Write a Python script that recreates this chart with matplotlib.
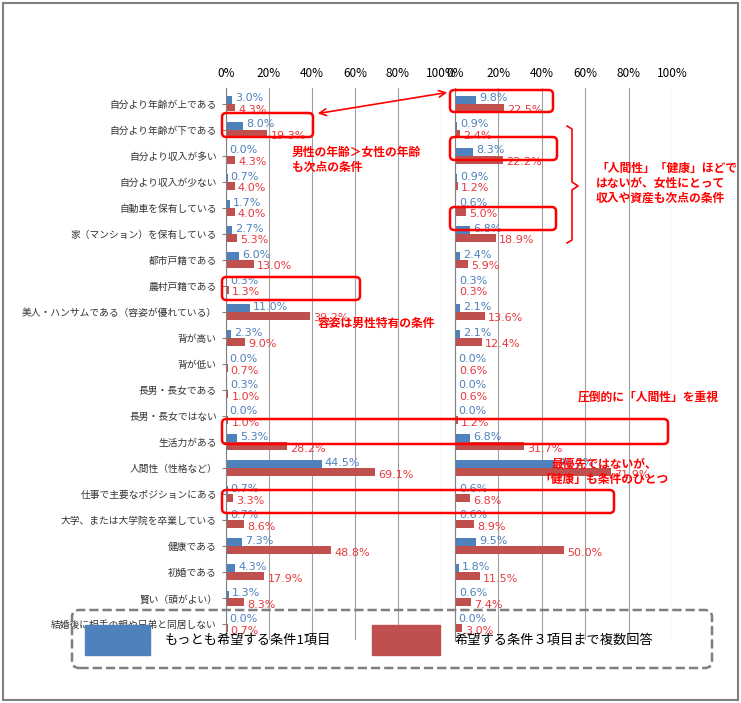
import numpy as np
import matplotlib.pyplot as plt
from matplotlib.patches import FancyBboxPatch, Rectangle, FancyArrowPatch

plt.rcParams['font.family'] = 'Noto Sans CJK JP'

categories = ['自分より年齢が上である', '自分より年齢が下である', '自分より収入が多い', '自分より収入が少ない',
              '自動車を保有している', '家（マンション）を保有している', '都市戸籍である', '農村戸籍である',
              '美人・ハンサムである（容姿が優れている）', '背が高い', '背が低い', '長男・長女である',
              '長男・長女ではない', '生活力がある', '人間性（性格など）', '仕事で主要なポジションにある',
              '大学、または大学院を卒業している', '健康である', '初婚である', '賢い（頭がよい）',
              '結婚後に相手の親や兄弟と同居しない']
left_top1 = [3.0, 8.0, 0.0, 0.7, 1.7, 2.7, 6.0, 0.3, 11.0, 2.3, 0.0, 0.3, 0.0, 5.3, 44.5, 0.7, 0.7, 7.3, 4.3, 1.3, 0.0]
left_top3 = [4.3, 19.3, 4.3, 4.0, 4.0, 5.3, 13.0, 1.3, 39.2, 9.0, 0.7, 1.0, 1.0, 28.2, 69.1, 3.3, 8.6, 48.8, 17.9, 8.3, 0.7]
right_top1 = [9.8, 0.9, 8.3, 0.9, 0.6, 6.8, 2.4, 0.3, 2.1, 2.1, 0.0, 0.0, 0.0, 6.8, 46.2, 0.6, 0.6, 9.5, 1.8, 0.6, 0.0]
right_top3 = [22.5, 2.4, 22.2, 1.2, 5.0, 18.9, 5.9, 0.3, 13.6, 12.4, 0.6, 0.6, 1.2, 31.7, 71.9, 6.8, 8.9, 50.0, 11.5, 7.4, 3.0]
legend_labels = ['もっとも希望する条件1項目', '希望する条件３項目まで複数回答']

W, H = 741, 703
BLUE, RED, TXTRED = '#4f81bd', '#c0504d', '#e8383d'
ANN = '#ff0000'

fig = plt.figure(figsize=(W / 100, H / 100), dpi=100)
fig.patches.append(Rectangle((3 / W, 3 / H), 735 / W, 697 / H, transform=fig.transFigure,
                             fill=False, ec='#7f7f7f', lw=1.5))


def px_axes(x0, y0, x1, y1):
    return fig.add_axes([x0 / W, 1 - y1 / H, (x1 - x0) / W, (y1 - y0) / H])


n = len(categories)
y = np.arange(n)
bh = 0.3
for i, (x0, x1, v1, v3) in enumerate([(226, 441, left_top1, left_top3), (455, 672, right_top1, right_top3)]):
    ax = px_axes(x0, 88, x1, 640)
    ax.barh(y - bh / 2, v1, height=bh, color=BLUE)
    ax.barh(y + bh / 2, v3, height=bh, color=RED)
    for yy, a, b in zip(y, v1, v3):
        ax.text(a + 1.5, yy - bh / 2 - 0.05, f'{a:.1f}%', color=BLUE, fontsize=8, va='center', fontfamily='DejaVu Sans')
        ax.text(b + 1.5, yy + bh / 2 + 0.1, f'{b:.1f}%', color=TXTRED, fontsize=8, va='center', fontfamily='DejaVu Sans')
    ax.set_xlim(0, 100)
    ax.set_ylim(n - 1 + 0.6, -0.6)
    ax.set_xticks(np.arange(0, 101, 20))
    ax.set_xticklabels([f'{t}%' for t in range(0, 101, 20)], fontsize=8.5)
    ax.xaxis.tick_top()
    ax.tick_params(axis='x', length=0, pad=6)
    ax.grid(axis='x', color='#a0a0a0', lw=0.8)
    ax.set_axisbelow(True)
    for s in ['top', 'right', 'bottom']:
        ax.spines[s].set_visible(False)
    ax.spines['left'].set_color('#808080')
    ax.set_yticks(y)
    if i == 0:
        ax.set_yticklabels(categories, fontsize=7)
        ax.tick_params(axis='y', length=3, colors='#808080', labelcolor='#333333')
    else:
        ax.set_yticklabels([])
        ax.tick_params(axis='y', length=0)


def box(x0, y0, x1, y1):
    fig.patches.append(FancyBboxPatch((x0 / W, 1 - y1 / H), (x1 - x0) / W, (y1 - y0) / H,
                                      boxstyle='round,pad=0,rounding_size=0.006', transform=fig.transFigure,
                                      fill=False, ec=ANN, lw=1.8, zorder=10))


box(222, 113, 313, 137)
box(450, 90, 553, 112)
box(450, 137, 557, 160)
box(450, 207, 556, 230)
box(222, 277, 360, 300)
box(222, 419, 668, 444)
box(222, 490, 614, 513)

fig.patches.append(FancyArrowPatch((315 / W, 1 - 114 / H), (450 / W, 1 - 92 / H), transform=fig.transFigure,
                                   arrowstyle='<->', mutation_scale=12, color=ANN, lw=1.2))
# curly bracket
bx = [567 / W, 572 / W, 572 / W, 578 / W, 572 / W, 572 / W, 567 / W]
by = [1 - v / H for v in [126, 129, 182, 186, 190, 240, 243]]
fig.add_artist(plt.Line2D(bx, by, color=ANN, lw=1.2))

tk = dict(color=ANN, fontsize=8.5, fontweight='bold', transform=fig.transFigure)
fig.text(292 / W, 1 - 160 / H, '男性の年齢＞女性の年齢\nも次点の条件', va='center', linespacing=1.2, **tk)
fig.text(596 / W, 1 - 183 / H, '「人間性」「健康」ほどで\nはないが、女性にとって\n収入や資産も次点の条件',
         va='center', linespacing=1.2, **tk)
fig.text(318 / W, 1 - 323 / H, '容姿は男性特有の条件', va='center', **tk)
fig.text(578 / W, 1 - 397 / H, '圧倒的に「人間性」を重視', va='center', **tk)
fig.text(604 / W, 1 - 472 / H, '最優先ではないが、\n「健康」も条件のひとつ', va='center', ha='center',
         linespacing=1.2, **tk)

# legend
fig.patches.append(FancyBboxPatch((72 / W, 1 - 668 / H), 640 / W, 58 / H, boxstyle='round,pad=0,rounding_size=0.01',
                                  transform=fig.transFigure, fill=False, ec='#7f7f7f', lw=1.8, ls='--'))
fig.patches.append(Rectangle((85 / W, 1 - 655 / H), 65 / W, 30 / H, transform=fig.transFigure, color=BLUE))
fig.patches.append(Rectangle((372 / W, 1 - 655 / H), 68 / W, 30 / H, transform=fig.transFigure, color=RED))
fig.text(165 / W, 1 - 640 / H, legend_labels[0], va='center', fontsize=9.5)
fig.text(455 / W, 1 - 640 / H, legend_labels[1], va='center', fontsize=9.5)

fig.savefig('out.png', dpi=100)
